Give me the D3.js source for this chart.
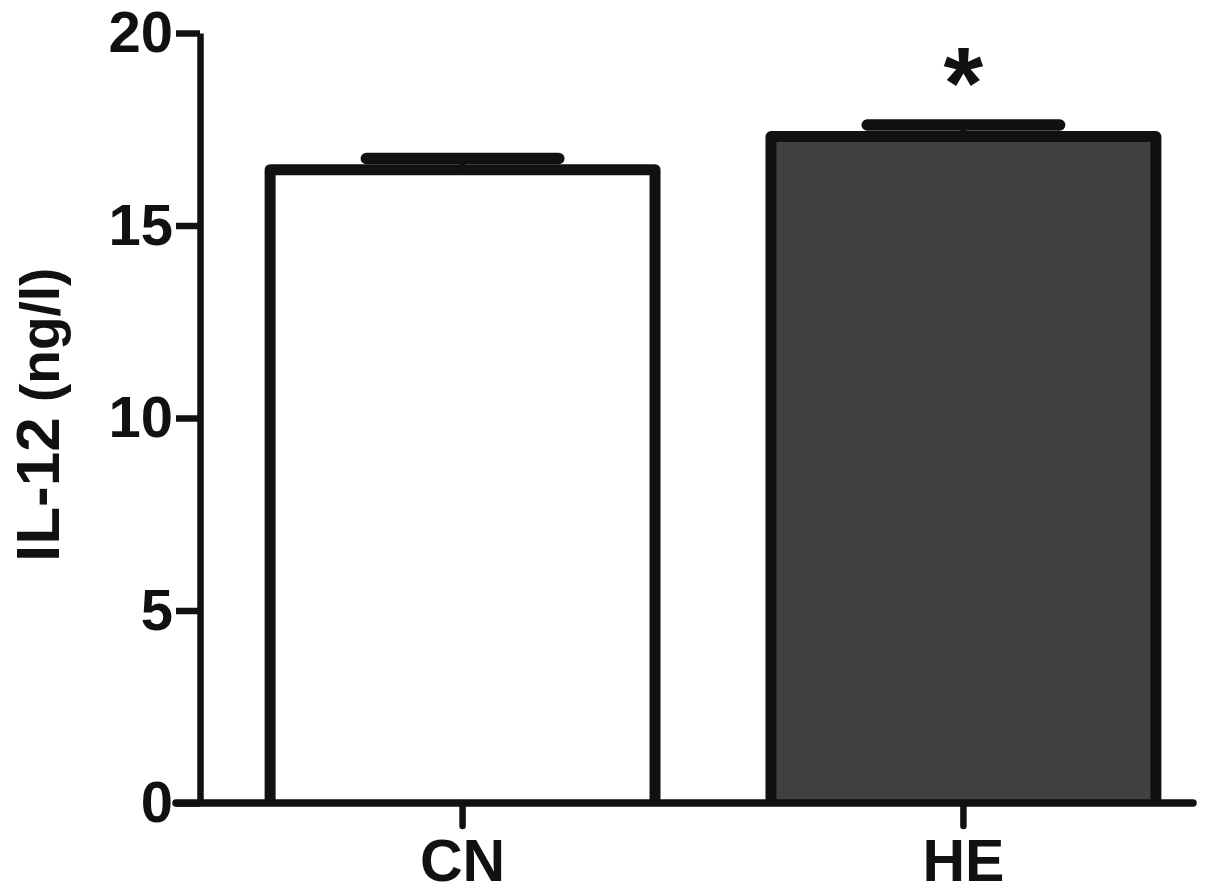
<!DOCTYPE html>
<html>
<head>
<meta charset="utf-8">
<script src="https://cdn.jsdelivr.net/npm/d3@7/dist/d3.min.js"></script>
<style>
  html, body { margin: 0; padding: 0; background: #fff; }
  svg { display: block; }
  text { font-family: "Liberation Sans", Arial, Helvetica, sans-serif; font-weight: bold; fill: #111; }
</style>
</head>
<body>
<svg id="chart" width="1205" height="894"></svg>
<script>
const categories = ["CN", "HE"];
const means = [16.45, 17.31];
const sems = [0.29, 0.30];
const fills = ["#ffffff", "#414141"];
const yTicks = [0, 5, 10, 15, 20];
const significance = ["", "*"];
const yLabelMain = "IL-12";
const yLabelUnit = "(ng/l)";

const svg = d3.select("#chart");
const ink = "#111111";

const y = d3.scaleLinear().domain([0, 20]).range([803, 33]);
const x = d3.scaleBand().domain(categories).range([200, 1226])
  .paddingInner(0.2315).paddingOuter(0.14);

const data = categories.map((c, i) => ({ c, m: means[i], s: sems[i], f: fills[i], sig: significance[i] }));

// bars (open at bottom, sitting on axis)
svg.append("g").selectAll("path").data(data).join("path")
  .attr("d", d => {
    const x0 = x(d.c), x1 = x(d.c) + x.bandwidth();
    return `M${x0},${y(0)}V${y(d.m)}H${x1}V${y(0)}`;
  })
  .attr("fill", d => d.f)
  .attr("stroke", ink)
  .attr("stroke-width", 11)
  .attr("stroke-linejoin", "round");

// error bars
const eg = svg.append("g");
eg.selectAll("line.whisker").data(data).join("line").attr("class", "whisker")
  .attr("x1", d => x(d.c) + x.bandwidth() / 2).attr("x2", d => x(d.c) + x.bandwidth() / 2)
  .attr("y1", d => y(d.m)).attr("y2", d => y(d.m + d.s))
  .attr("stroke", ink).attr("stroke-width", 6);
eg.selectAll("line.cap").data(data).join("line").attr("class", "cap")
  .attr("x1", d => x(d.c) + x.bandwidth() * 0.25).attr("x2", d => x(d.c) + x.bandwidth() * 0.75)
  .attr("y1", d => y(d.m + d.s)).attr("y2", d => y(d.m + d.s))
  .attr("stroke", ink).attr("stroke-width", 11.5).attr("stroke-linecap", "round");

// significance marks
svg.append("g").selectAll("text").data(data.filter(d => d.sig)).join("text")
  .attr("x", d => x(d.c) + x.bandwidth() / 2)
  .attr("y", d => y(d.m + d.s) - 7)
  .attr("text-anchor", "middle")
  .style("font-size", "102px")
  .text(d => d.sig);

// y axis
const yAxis = svg.append("g").attr("transform", "translate(200,0)")
  .call(d3.axisLeft(y).tickValues(yTicks).tickSize(24).tickSizeOuter(0).tickPadding(3));
yAxis.select(".domain").attr("stroke", ink).attr("stroke-width", 6.5);
yAxis.selectAll(".tick line").attr("stroke", ink).attr("stroke-width", 6.5);
yAxis.selectAll(".tick text").style("font-size", "58px").attr("fill", ink);

// x axis
const xAxis = svg.append("g").attr("transform", `translate(0,${y(0)})`)
  .call(d3.axisBottom(x).tickSize(23).tickPadding(13));
xAxis.select(".domain").remove();
xAxis.selectAll(".tick line").attr("stroke", ink).attr("stroke-width", 6.5).attr("stroke-linecap", "round");
xAxis.selectAll(".tick text").style("font-size", "59px").attr("fill", ink);
svg.append("line")
  .attr("x1", 176).attr("x2", 1193).attr("y1", y(0)).attr("y2", y(0))
  .attr("stroke", ink).attr("stroke-width", 7.5).attr("stroke-linecap", "round");

// y label
const yl = svg.append("text")
  .attr("transform", `translate(59,${y(0) - 241}) rotate(-90)`)
  .attr("text-anchor", "start");
yl.append("tspan").style("font-size", "62px").text(yLabelMain);
yl.append("tspan").style("font-size", "55px").text(" " + yLabelUnit);
</script>
</body>
</html>
